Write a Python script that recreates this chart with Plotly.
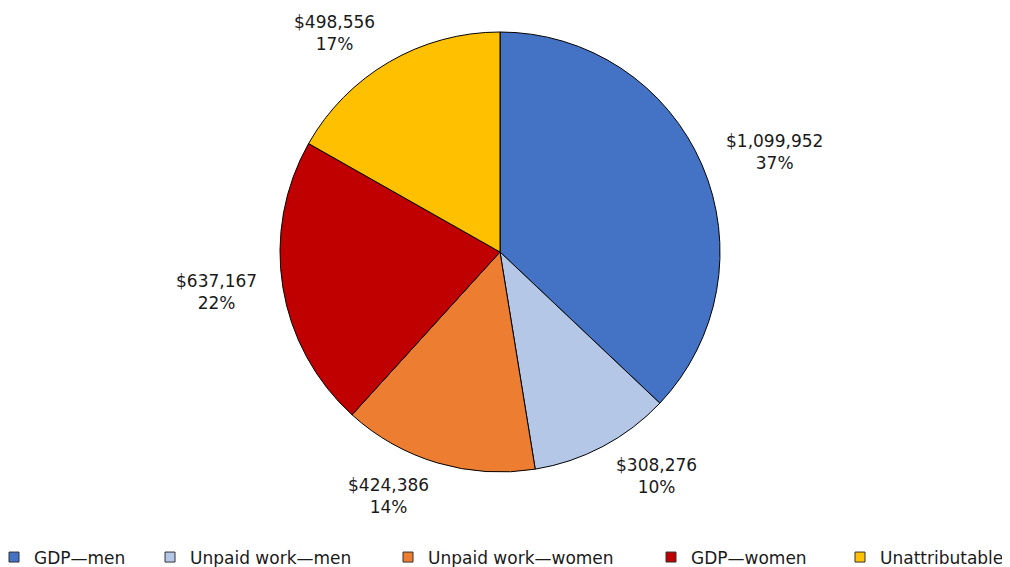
import math
import plotly.graph_objects as go

categories = ["GDP—men", "Unpaid work—men", "Unpaid work—women", "GDP—women", "Unattributable"]
values = [1099952, 308276, 424386, 637167, 498556]
pct_labels = ["37%", "10%", "14%", "22%", "17%"]
colors = ["#4472C4", "#B4C7E7", "#ED7D31", "#C00000", "#FFC000"]

FONT = "DejaVu Sans, Verdana, sans-serif"
TEXT_COLOR = "#1a1a1a"
FS = 17
# figure size (page body adds an 8px margin around the figure)
W, H = 1002, 559
DOM_X = [272 / W, 712 / W]
DOM_Y = [95 / H, 1 - 24 / H]
# legend text start positions (figure px) and vertical centre
LEGEND_TEXT_X = [26, 182, 420, 683, 872]
LEGEND_Y_PX = 549.5

fig = go.Figure()
fig.add_trace(go.Pie(
    labels=categories,
    values=values,
    sort=False,
    direction="clockwise",
    rotation=0,
    marker=dict(colors=colors, line=dict(color="#000000", width=1)),
    textinfo="none",
    showlegend=False,
    hovertemplate="%{label}: $%{value:,.0f}<extra></extra>",
    domain=dict(x=DOM_X, y=DOM_Y),
))

# legend entries, one small legend per category so they sit like the original
legend_layout = {}
for i, (cat, col) in enumerate(zip(categories, colors)):
    key = "legend" if i == 0 else f"legend{i + 1}"
    fig.add_trace(go.Scatter(
        x=[None], y=[None], mode="markers", name=cat,
        marker=dict(symbol="square", size=10, color=col,
                    line=dict(color="#333333", width=1)),
        legend=key, showlegend=True, hoverinfo="skip",
    ))
    legend_layout[key] = dict(
        orientation="h",
        x=(LEGEND_TEXT_X[i] - 40) / W, xanchor="left",
        y=1 - LEGEND_Y_PX / H, yanchor="middle",
        itemwidth=30,
        bgcolor="rgba(0,0,0,0)",
        font=dict(family=FONT, size=FS, color=TEXT_COLOR),
    )

# data labels outside the pie, placed from the slice angles
cx = (DOM_X[0] + DOM_X[1]) / 2 * W
cy = (1 - (DOM_Y[0] + DOM_Y[1]) / 2) * H
r = min((DOM_X[1] - DOM_X[0]) * W, (DOM_Y[1] - DOM_Y[0]) * H) / 2
gap_x, gap_y, half_h = 24, 14, 20
total = sum(values)
cum = 0
for v, p in zip(values, pct_labels):
    mid = (cum + v / 2) / total * 2 * math.pi
    cum += v
    dx, dy = math.sin(mid), -math.cos(mid)
    px = cx + (r + gap_x) * dx
    py = cy + (r + gap_y) * dy + dy * half_h
    xa = "left" if dx > 0.2 else ("right" if dx < -0.2 else "center")
    fig.add_annotation(
        x=px / W, y=1 - py / H, xref="paper", yref="paper",
        text=f"${v:,.0f}<br>{p}", showarrow=False,
        xanchor=xa, yanchor="middle", align="center",
        font=dict(family=FONT, size=FS, color=TEXT_COLOR),
    )

fig.update_layout(
    width=W, height=H,
    margin=dict(l=0, r=0, t=0, b=0, autoexpand=False),
    paper_bgcolor="white",
    plot_bgcolor="white",
    font=dict(family=FONT, size=FS, color=TEXT_COLOR),
    xaxis=dict(visible=False),
    yaxis=dict(visible=False),
    showlegend=True,
    **legend_layout,
)

fig.write_html("out.html")
